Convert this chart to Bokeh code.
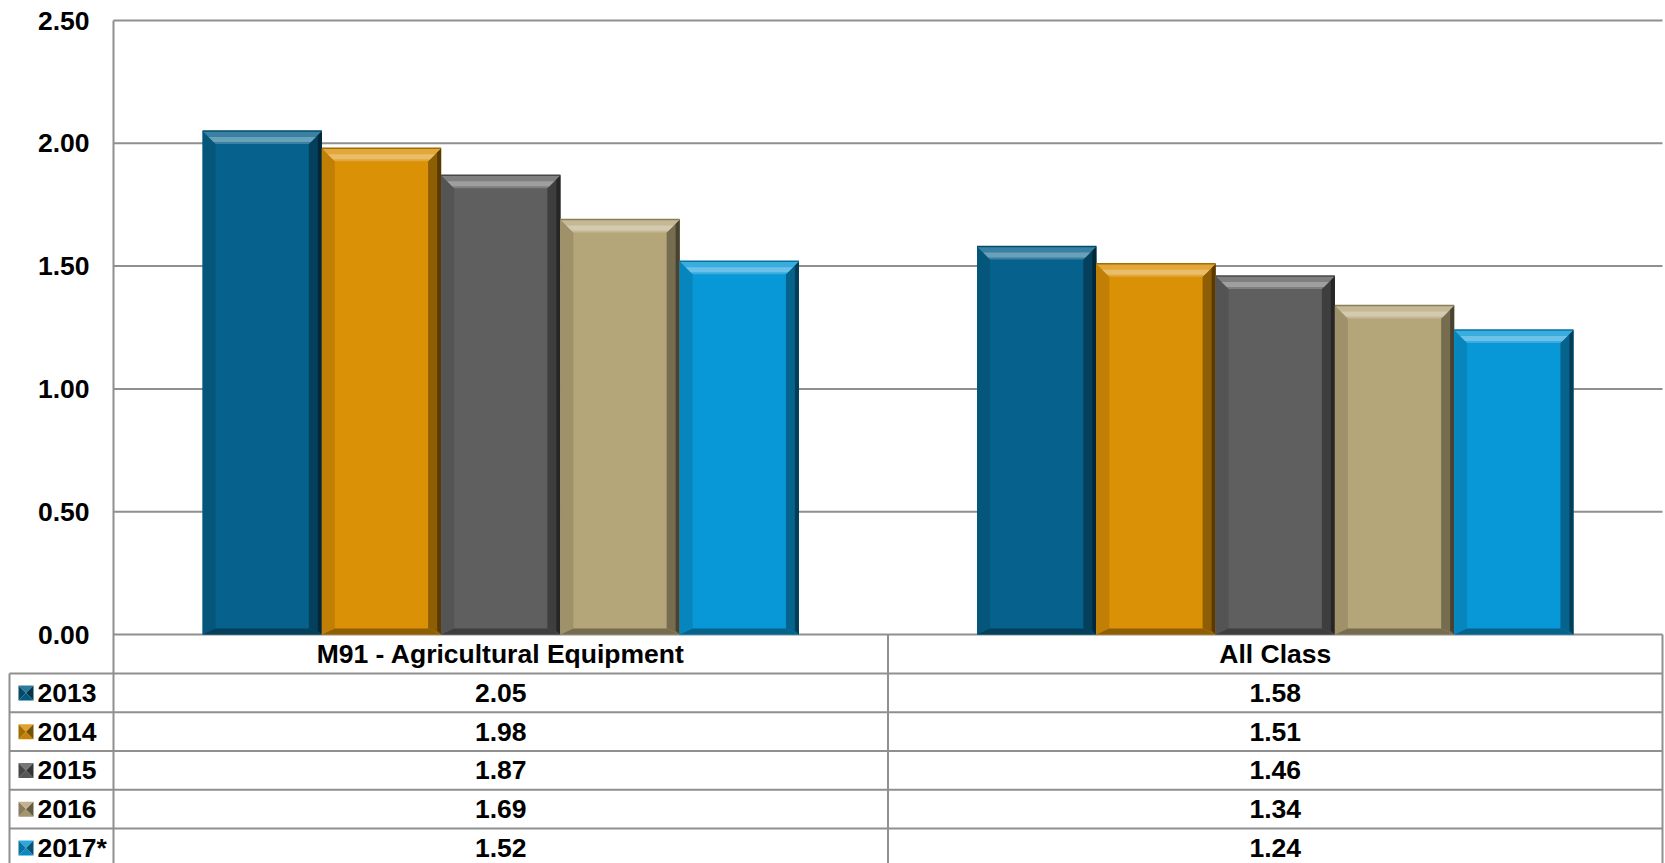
import numpy as np
from bokeh.plotting import figure
from bokeh.models import Range1d, FixedTicker, NumeralTickFormatter, ColumnDataSource
from bokeh.core.properties import value
from bokeh.embed import file_html
from bokeh.resources import INLINE

# ---------------- data ----------------
categories = ["M91 - Agricultural Equipment", "All Class"]
series_names = ["2013", "2014", "2015", "2016", "2017*"]
values_2013 = [2.05, 1.58]
values_2014 = [1.98, 1.51]
values_2015 = [1.87, 1.46]
values_2016 = [1.69, 1.34]
values_2017 = [1.52, 1.24]
y_ticks = [0.0, 0.5, 1.0, 1.5, 2.0, 2.5]

series_values = [values_2013, values_2014, values_2015, values_2016, values_2017]
colors = ["#06628C", "#DB9106", "#5F5F60", "#B5A67A", "#0898D8"]

# ---------------- layout constants (figure pixels) ----------------
FONT = "Liberation Sans"
FS = "26.5px"
GRID = "#8f8f8f"
W = 1665
H = 863
LEFT = 113          # x of the value axis
RIGHT = 1662        # right edge of the plot / table
TBL_LEFT = 9        # left edge of the legend column
TOP = 20            # y of the 2.50 line
ZERO = 634          # y of the 0.00 line
HDR_H = 39
ROW_H = 38.75
FRAME_W = RIGHT - LEFT
YMAX = 2.5
PX_PER_UNIT = (ZERO - TOP) / YMAX
ncat = len(categories)
nser = len(series_names)
group_w = 0.77
step = group_w / nser
ux = ncat / FRAME_W          # data units per px (x)
uy = 1.0 / PX_PER_UNIT       # data units per px (y)


def X(px):
    return (px - LEFT) * ux


def Y(py):
    return (ZERO - py) * uy


def mix(hexc, other, t):
    c = np.array([int(hexc[i:i + 2], 16) for i in (1, 3, 5)], float)
    o = np.array(other, float)
    r = c * (1 - t) + o * t
    return "#%02x%02x%02x" % tuple(int(round(v)) for v in r)


def lighten(c, t):
    return mix(c, (255, 255, 255), t)


def darken(c, t):
    return mix(c, (0, 0, 0), t)


p = figure(width=W, height=H,
           x_range=Range1d(X(0), X(W)), y_range=Range1d(Y(H), Y(0)),
           output_backend="svg", toolbar_location=None,
           x_axis_location=None,
           min_border_left=0, min_border_right=0,
           min_border_top=0, min_border_bottom=0)
p.outline_line_color = None
p.background_fill_color = "white"
p.border_fill_color = "white"
p.xgrid.visible = False
p.ygrid.visible = False

ax = p.yaxis[0]
ax.fixed_location = 0
ax.bounds = (Y(H), YMAX)
ax.ticker = FixedTicker(ticks=y_ticks)
ax.formatter = NumeralTickFormatter(format="0.00")
ax.major_tick_in = 0
ax.major_tick_out = 0
ax.minor_tick_in = 0
ax.minor_tick_out = 0
ax.axis_line_color = GRID
ax.axis_line_width = 2
ax.major_label_text_font = FONT
ax.major_label_text_font_size = FS
ax.major_label_text_font_style = "bold"
ax.major_label_text_color = "black"
ax.major_label_standoff = 24

# horizontal value gridlines
nt = len(y_ticks)
p.segment(x0=[0] * nt, x1=[ncat] * nt, y0=y_ticks, y1=y_ticks,
          line_color=GRID, line_width=2)

# ---------------- bars with bevel ----------------
T = 13  # bevel depth top/sides, px
B = 6   # bevel depth bottom, px

for i, (name, vals, col) in enumerate(zip(series_names, series_values, colors)):
    xs_c = [c + 0.5 + (i - (nser - 1) / 2) * step for c in range(ncat)]
    p.vbar(x=xs_c, top=vals, bottom=0, width=step, fill_color=col, line_color=None)

    top_xs, top_ys, hi_xs, hi_ys = [], [], [], []
    r_xs, r_ys, r2_xs, r2_ys = [], [], [], []
    l_xs, l_ys, b_xs, b_ys = [], [], [], []
    for xc, h in zip(xs_c, vals):
        x0, x1 = xc - step / 2, xc + step / 2
        tx, ty = T * ux, T * uy
        bx, by = T * ux, B * uy
        top_xs.append([x0, x1, x1 - tx, x0 + tx])
        top_ys.append([h, h, h - ty, h - ty])
        hi_xs.append([x0 + 6 * ux, x1 - 6 * ux, x1 - 11 * ux, x0 + 11 * ux])
        hi_ys.append([h - 6 * uy, h - 6 * uy, h - 11 * uy, h - 11 * uy])
        r_xs.append([x1, x1, x1 - bx, x1 - tx])
        r_ys.append([h, 0, by, h - ty])
        r2_xs.append([x1, x1, x1 - 4 * ux, x1 - 4 * ux])
        r2_ys.append([h, 0, 4 * uy, h - 4 * uy])
        l_xs.append([x0, x0 + tx, x0 + bx, x0])
        l_ys.append([h, h - ty, by, 0])
        b_xs.append([x0, x0 + bx, x1 - bx, x1])
        b_ys.append([0, by, by, 0])
    p.patches(xs=l_xs, ys=l_ys, fill_color=darken(col, 0.12), line_color=None)
    p.patches(xs=b_xs, ys=b_ys, fill_color=darken(col, 0.35), line_color=None)
    p.patches(xs=r_xs, ys=r_ys, fill_color=darken(col, 0.35), line_color=None)
    p.patches(xs=r2_xs, ys=r2_ys, fill_color=darken(col, 0.6), line_color=None)
    p.patches(xs=top_xs, ys=top_ys, fill_color=lighten(col, 0.2), line_color=None)
    p.patches(xs=hi_xs, ys=hi_ys, fill_color=lighten(col, 0.4), line_color=None)
    p.segment(x0=[x - step / 2 for x in xs_c], x1=[x + step / 2 for x in xs_c],
              y0=vals, y1=vals, line_color=darken(col, 0.25), line_width=1.5)

# ---------------- data table ----------------
hdr_y = Y(ZERO + HDR_H / 2)
hdr_src = ColumnDataSource(dict(x=[c + 0.5 for c in range(ncat)],
                                y=[hdr_y] * ncat, t=categories))
p.text(x="x", y="y", text="t", source=hdr_src, text_font=value(FONT),
       text_font_size=FS, text_font_style="bold", text_color="black",
       text_align="center", text_baseline="middle")

row_top_px = [ZERO + HDR_H + ROW_H * r for r in range(nser)]
row_tops = [Y(v) for v in row_top_px]
p.segment(x0=[X(TBL_LEFT)] * nser, x1=[ncat] * nser, y0=row_tops, y1=row_tops,
          line_color=GRID, line_width=2)
p.segment(x0=[X(TBL_LEFT), 1, ncat], x1=[X(TBL_LEFT), 1, ncat],
          y0=[row_tops[0], 0, 0], y1=[Y(H)] * 3, line_color=GRID, line_width=2)

row_c_px = [v + ROW_H / 2 for v in row_top_px]
row_c = [Y(v) for v in row_c_px]
p.text(x=[X(37)] * nser, y=row_c, text=series_names, text_font=value(FONT),
       text_font_size=FS, text_font_style="bold", text_color="black",
       text_align="left", text_baseline="middle")

# legend markers (bevelled squares)
MS = 15
mx0 = 18
for r, col in enumerate(colors):
    cyp = row_c_px[r]
    x0, x1 = X(mx0), X(mx0 + MS)
    y0, y1 = Y(cyp - MS / 2), Y(cyp + MS / 2)
    cx, cy = (x0 + x1) / 2, Y(cyp)
    p.patches(xs=[[x0, x1, cx], [x0, x1, cx], [x0, x0, cx], [x1, x1, cx]],
              ys=[[y0, y0, cy], [y1, y1, cy], [y0, y1, cy], [y0, y1, cy]],
              fill_color=[lighten(col, 0.15), darken(col, 0.1),
                          darken(col, 0.25), darken(col, 0.45)],
              line_color=None)

for c in range(ncat):
    p.text(x=[c + 0.5] * nser, y=row_c, text=["%.2f" % s[c] for s in series_values],
           text_font=value(FONT), text_font_size=FS, text_font_style="bold",
           text_color="black", text_align="center", text_baseline="middle")

open("out.html", "w").write(file_html(p, INLINE))
